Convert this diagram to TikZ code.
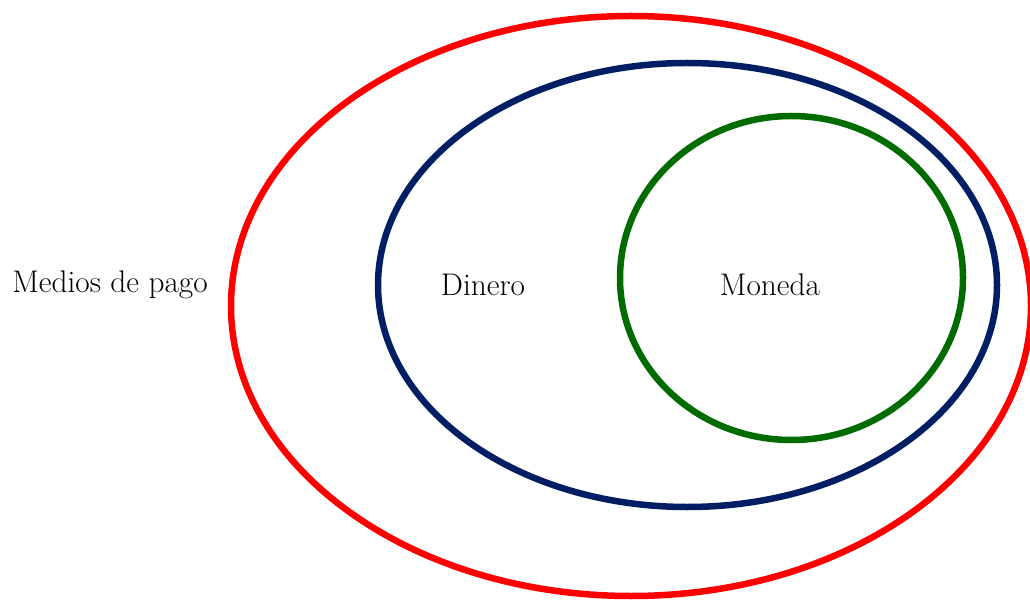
\documentclass[tikz,border=0pt]{standalone}
\usetikzlibrary{shapes.geometric}
\definecolor{redring}{RGB}{255,0,0}
\definecolor{bluering}{RGB}{0,30,100}
\definecolor{greenring}{RGB}{0,108,0}
\tikzset{
  ring/.style={line width=6.5pt},
  lbl/.style={font=\fontsize{31.3}{37}\selectfont, inner sep=0pt}
}
\begin{document}
\begin{tikzpicture}[x=1pt,y=-1pt]
\useasboundingbox (0,0) rectangle (1030,601);
\fill[white] (0,0) rectangle (1030,601);
\draw[ring, draw=redring] (631,306) ellipse [x radius=400, y radius=290];
\draw[ring, draw=bluering] (687.5,285) ellipse [x radius=309.5, y radius=222];
\draw[ring, draw=greenring] (791.5,278) ellipse [x radius=171.5, y radius=162];
\node[lbl] (medios) at (110,285) {Medios de pago};
\node[lbl] (dinero) at (483,285) {Dinero};
\node[lbl] (moneda) at (770,285) {Moneda};
\end{tikzpicture}
\end{document}
